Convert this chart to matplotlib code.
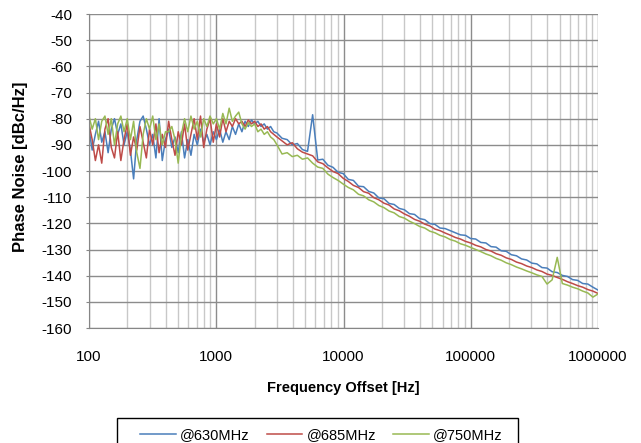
import numpy as np
import matplotlib
matplotlib.use("Agg")
import matplotlib.pyplot as plt
from matplotlib.ticker import FixedLocator, NullFormatter
from matplotlib.patches import Rectangle

plt.rcParams['font.family'] = ['Liberation Sans', 'DejaVu Sans']

# ---------------- data ----------------
# sampling grid: dense below 3 kHz, coarser above
freq_low = np.geomspace(100, 3000, 60)
freq_high = np.geomspace(3000, 1e6, 64)[1:]
freq = np.concatenate([freq_low, freq_high])

blue_low = [-84, -92, -86, -81, -89, -85, -93, -84, -80, -86,
            -82, -90, -85, -92, -103, -88, -81, -79, -84, -90,
            -86, -95, -80, -96, -88, -84, -91, -87, -93, -85,
            -95, -88, -94, -86, -90, -84, -89, -86, -90, -85,
            -88, -84, -89, -85, -88, -83, -86, -82, -85, -81,
            -83, -80.5, -82, -81, -83, -82, -84, -83, -85, -85.5]
blue_high = [-87.5, -88, -90, -89.5, -91.8, -92.5, -78.5, -95.8, -95.5, -97.8,
             -98.6, -100.5, -101, -103.2, -103.6, -105.8, -106, -107.8, -108.4, -110.3,
             -110.6, -112.4, -112.8, -114.3, -114.8, -116.3, -116.6, -118.2, -118.6, -120.1,
             -120.4, -121.8, -122, -122.8, -123.6, -124.4, -124.6, -125.8, -126, -127.3,
             -127.5, -128.9, -129.1, -130.5, -130.7, -132, -132.4, -133.6, -134, -135.2,
             -135.5, -136.9, -137.1, -138.5, -138.8, -139.9, -140.3, -141.5, -141.8, -143,
             -143.2, -144.4, -145.5]

red_low = [-82, -88, -96, -90, -97, -84, -80, -91, -95, -85,
           -96, -88, -82, -94, -87, -92, -83, -89, -95, -84,
           -90, -82, -93, -86, -91, -81, -88, -94, -85, -90,
           -82, -92, -86, -80, -88, -79, -91, -84, -80, -89,
           -82, -87, -80, -85, -81, -83, -80, -82, -81, -83,
           -80.5, -82, -81, -83, -82, -84, -83, -85, -86, -87]
red_high = [-88.5, -90, -89.2, -91.5, -92.8, -93.5, -94.2, -96.5, -97.2, -98.8,
            -100.2, -101, -102.8, -104, -105.5, -106.3, -107.9, -108.5, -110.2, -111,
            -112.3, -113, -114.5, -115.2, -116.4, -117.3, -118.5, -119.2, -120.3, -121,
            -122.2, -122.8, -123.7, -124.5, -125.4, -126, -126.9, -127.5, -128.4, -129,
            -130, -130.6, -131.6, -132.2, -133.2, -133.8, -134.8, -135.4, -136.3, -136.9,
            -137.8, -138.4, -139.4, -139.9, -140.7, -141.4, -142.3, -143, -143.8, -144.4,
            -145.3, -145.9, -146.8]

green_low = [-79, -84, -80, -88, -81, -79, -86, -80, -90, -82,
             -79, -85, -80, -88, -81, -93, -99, -86, -80, -84,
             -79, -88, -82, -90, -85, -85, -83, -88, -97, -86,
             -80, -85, -79, -84, -81, -87, -80, -83, -79, -82,
             -80, -84, -78, -82, -76, -81, -79, -77.5, -82, -84,
             -81.5, -83, -82, -85, -84, -86, -85, -87, -88, -90]
green_high = [-93.5, -93, -94.5, -94, -95.5, -95, -97, -98.5, -99, -101.2,
              -102.5, -103.6, -105, -106.3, -107.2, -108.9, -109.5, -111, -111.8, -113.2,
              -114, -115.3, -116, -117.4, -118, -119.2, -120.1, -121.2, -121.8, -123,
              -123.6, -124.6, -125.2, -126.2, -126.8, -127.8, -128.4, -129.2, -130, -130.8,
              -131.7, -132.4, -133.4, -134.1, -135.1, -135.8, -136.7, -137.4, -138.2, -138.9,
              -139.7, -140.3, -143.2, -141.6, -133, -143, -143.6, -144.4, -145, -145.9,
              -146.6, -148.2, -147]

series_names = ['@630MHz', '@685MHz', '@750MHz']
series_values = [blue_low + blue_high, red_low + red_high, green_low + green_high]
series_colors = ['#4A7EBB', '#BE4B48', '#98B954']

x_ticks = [100, 1000, 10000, 100000, 1000000]
x_tick_labels = ['100', '1000', '10000', '100000', '1000000']
y_ticks = list(range(-160, -39, 10))

# ---------------- plot ----------------
W, H = 641, 443
fig = plt.figure(figsize=(W / 100, H / 100), dpi=100)
ax = fig.add_axes([89 / W, 1 - 328 / H, (598 - 89) / W, (328 - 14) / H])

handles = []
for vals, name, col in zip(series_values, series_names, series_colors):
    h, = ax.plot(freq, vals, color=col, lw=1.1, label=name)
    handles.append(h)

ax.set_xscale('log')
ax.set_xlim(100, 1e6)
ax.set_ylim(-160, -40)

ax.xaxis.set_major_locator(FixedLocator(x_ticks))
ax.set_xticklabels(x_tick_labels)
minor = [m * d for d in [100, 1000, 10000, 100000] for m in range(2, 10)]
ax.xaxis.set_minor_locator(FixedLocator(minor))
ax.xaxis.set_minor_formatter(NullFormatter())
ax.set_yticks(y_ticks)
ax.set_yticklabels([str(v) for v in y_ticks])

ax.grid(which='major', axis='both', color='#8C8C8C', lw=1.0)
ax.grid(which='minor', axis='x', color='#C8C8C8', lw=1.0)
ax.set_axisbelow(True)

for s in ax.spines.values():
    s.set_visible(False)
ax.spines['left'].set_visible(True)
ax.spines['bottom'].set_visible(True)
ax.spines['left'].set_color('#868686')
ax.spines['bottom'].set_color('#868686')

ax.tick_params(axis='y', which='major', length=2.2, color='#868686', labelsize=11, pad=10)
ax.tick_params(axis='x', which='both', length=0, labelsize=11, pad=16)

fig.text(21 / W, 1 - 167 / H, 'Phase Noise [dBc/Hz]', rotation=90, ha='center', va='center',
         fontsize=12, fontweight='bold')
fig.text(343 / W, 1 - 388 / H, 'Frequency Offset [Hz]', ha='center', va='center',
         fontsize=10.5, fontweight='bold')

# legend frame (extends below the figure edge like the reference)
fig.patches.append(Rectangle((117 / W, 1 - 460 / H), (518 - 117) / W, (460 - 418) / H,
                             transform=fig.transFigure, facecolor='white',
                             edgecolor='black', lw=1.0, zorder=1))
leg = fig.legend(handles=handles, labels=series_names, loc='center left',
                 bbox_to_anchor=(140 / W, 1 - 435 / H), ncol=3,
                 fontsize=10.5, frameon=False, handlelength=2.45,
                 columnspacing=1.15, borderpad=0, handletextpad=0.3,
                 borderaxespad=0)
leg.set_zorder(2)

fig.savefig('out.png', dpi=100)
